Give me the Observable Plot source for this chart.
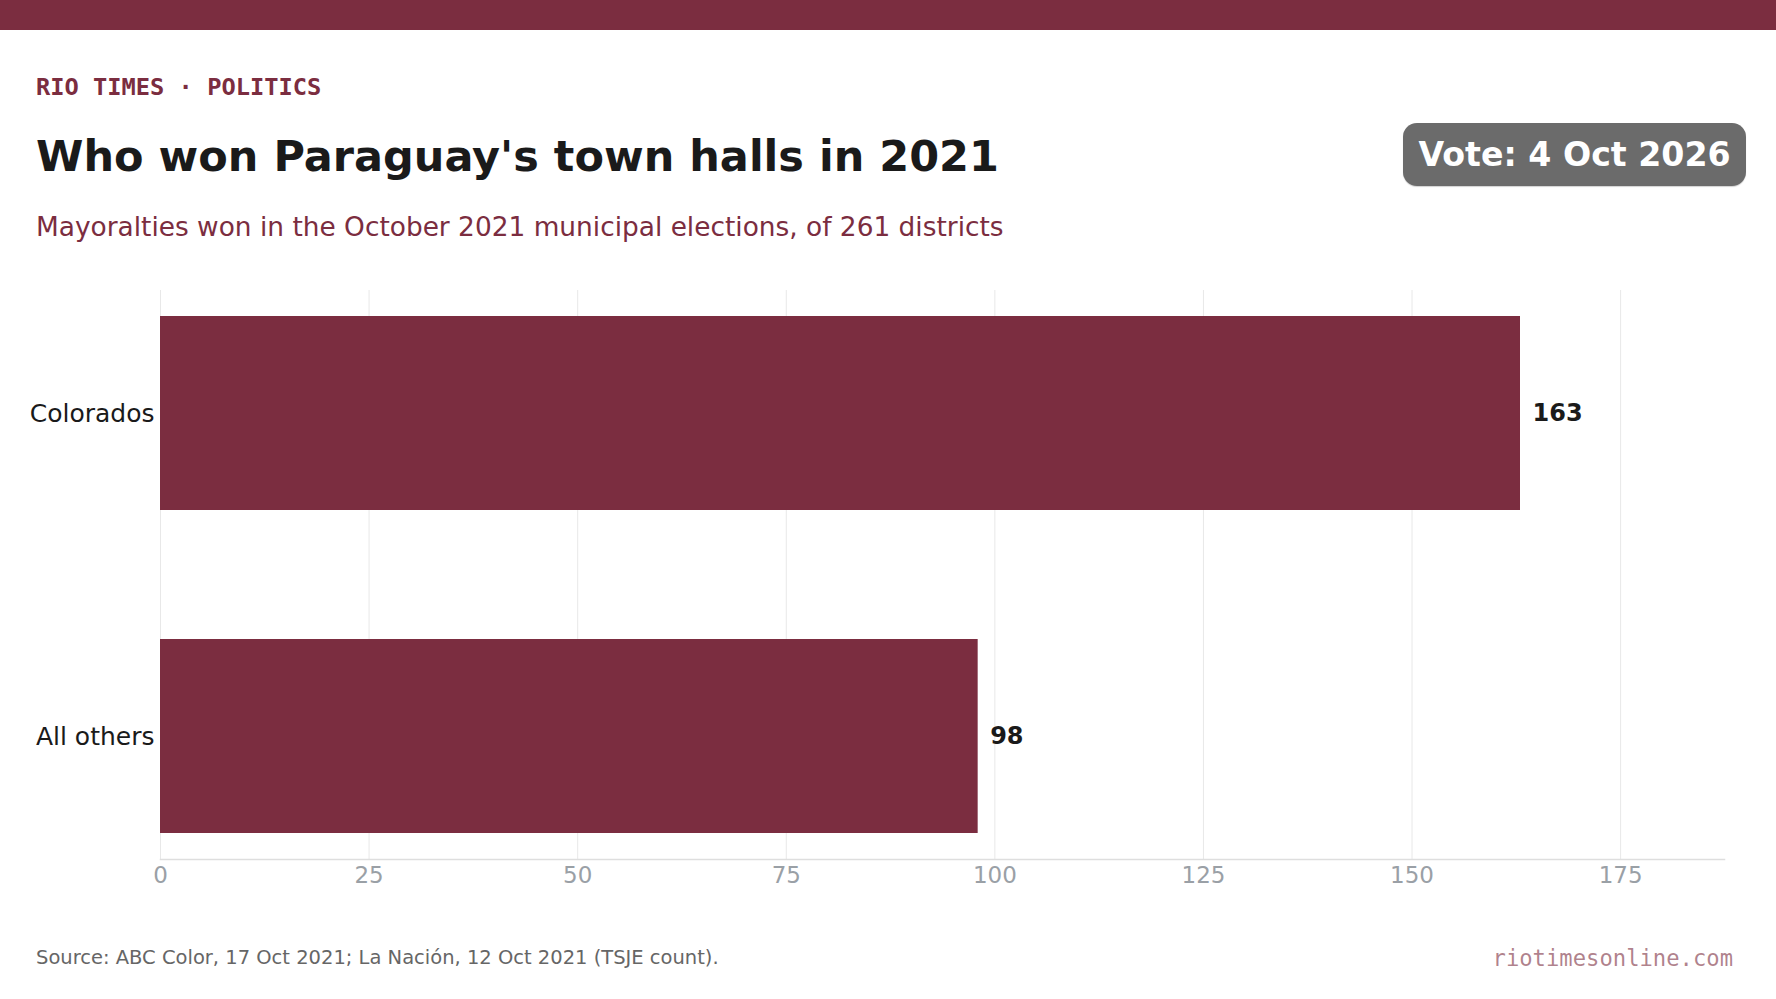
<!DOCTYPE html>
<html>
<head>
<meta charset="utf-8">
<script src="https://cdn.jsdelivr.net/npm/d3@7"></script>
<script src="https://cdn.jsdelivr.net/npm/@observablehq/plot@0.6"></script>
<style>
  html, body { margin: 0; padding: 0; background: #fff; }
  body { width: 1776px; height: 999px; position: relative; overflow: hidden; font-family: "DejaVu Sans", sans-serif; }
  .abs { position: absolute; line-height: 1; white-space: nowrap; }
  #topbar { position: absolute; left: 0; top: 0; width: 1776px; height: 30px; background: #7b2d40; }
  #kicker { left: 36px; top: 75.8px; font-family: "DejaVu Sans Mono", monospace; font-weight: bold; font-size: 23.7px; color: #7b2d40; }
  #title { left: 36px; top: 134.6px; font-weight: bold; font-size: 43px; color: #1a1a1a; }
  #subtitle { left: 36px; top: 214px; font-size: 26.4px; color: #7b2d40; }
  #badge { position: absolute; left: 1403px; top: 123px; width: 343px; height: 63px; background: #6b6b6b; border-radius: 14px; box-shadow: 0 1px 1px rgba(0,0,0,0.18); }
  #badgeText { left: 0; width: 343px; text-align: center; top: 14.5px; font-weight: bold; font-size: 33.2px; color: #fff; }
  #chart { position: absolute; left: 0; top: 260px; }
  #source { left: 36px; top: 947.5px; font-size: 19.5px; color: #666666; }
  #brand { right: 43px; top: 947px; font-family: "DejaVu Sans Mono", monospace; font-size: 22.2px; color: rgba(123,45,64,0.6); }
</style>
</head>
<body>
<div id="topbar"></div>
<div id="kicker" class="abs">RIO TIMES · POLITICS</div>
<div id="title" class="abs">Who won Paraguay's town halls in 2021</div>
<div id="subtitle" class="abs">Mayoralties won in the October 2021 municipal elections, of 261 districts</div>
<div id="badge"><div id="badgeText" class="abs">Vote: 4 Oct 2026</div></div>
<div id="chart"></div>
<div id="source" class="abs">Source: ABC Color, 17 Oct 2021; La Nación, 12 Oct 2021 (TSJE count).</div>
<div id="brand" class="abs">riotimesonline.com</div>
<script>
const parties = ["Colorados", "All others"];
const mayoralties = [163, 98];
const xTicks = [0, 25, 50, 75, 100, 125, 150, 175];

const data = parties.map((p, i) => ({party: p, value: mayoralties[i]}));
const barColor = "#7b2d40";

const chart = Plot.plot({
  width: 1776,
  height: 640,
  marginLeft: 160,
  marginRight: 52,
  marginTop: 30,
  marginBottom: 41,
  style: {fontFamily: "DejaVu Sans, sans-serif", background: "transparent", overflow: "visible"},
  x: {domain: [0, d3.max(mayoralties) * 1.15], label: null},
  y: {domain: parties, paddingInner: 0.4, paddingOuter: 0.08, label: null},
  marks: [
    Plot.gridX(xTicks, {stroke: "#e8e8e8", strokeOpacity: 1, strokeWidth: 1}),
    Plot.frame({anchor: "bottom", stroke: "#dedede", strokeWidth: 1.5}),
    Plot.barX(data, {x: "value", y: "party", fill: barColor}),
    Plot.text(data, {x: "value", y: "party", text: d => String(d.value), dx: 12, textAnchor: "start", fontWeight: "bold", fontSize: 24, fill: "#1a1a1a"}),
    Plot.axisX(xTicks, {tickSize: 0, tickPadding: 7.5, fontSize: 23, fill: "#9aa0a6", label: null}),
    Plot.axisY({tickSize: 0, tickPadding: 6, fontSize: 25, fill: "#1a1a1a", label: null})
  ]
});
document.getElementById("chart").appendChild(chart);
</script>
</body>
</html>
